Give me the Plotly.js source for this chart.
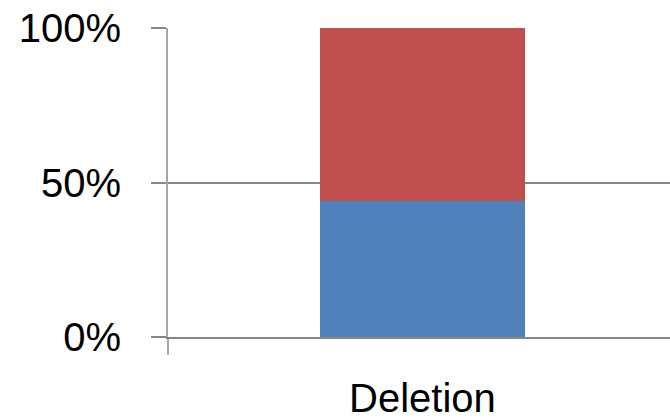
<!DOCTYPE html>
<html>
<head>
<meta charset="utf-8">
<script src="https://cdn.plot.ly/plotly-3.0.1.min.js"></script>
<style>
  html, body { margin: 0; padding: 0; background: #ffffff; }
  #chart { width: 670px; height: 420px; }
</style>
</head>
<body>
<div id="chart"></div>
<script>
// One category, two stacked shares (percent of total)
const categories = ['Deletion'];
const lowerShare = [44];   // blue segment
const upperShare = [56];   // red segment
const yTickValues = [0, 50, 100];
const yTickLabels = ['0%', '50%', '100%'];

const catIndex = categories.map((_, i) => i);

const traces = [
  {
    type: 'bar',
    x: catIndex,
    y: lowerShare,
    marker: { color: '#4F81BD' },
    width: 0.4028,
    hoverinfo: 'y'
  },
  {
    type: 'bar',
    x: catIndex,
    y: upperShare,
    marker: { color: '#C0504D' },
    width: 0.4028,
    hoverinfo: 'y'
  }
];

const layout = {
  width: 670,
  height: 420,
  margin: { l: 168, r: 0, t: 28, b: 83 },
  paper_bgcolor: '#ffffff',
  plot_bgcolor: '#ffffff',
  barmode: 'stack',
  showlegend: false,
  font: { family: 'Liberation Sans, Arial, sans-serif', color: '#000000', size: 40 },
  xaxis: {
    type: 'linear',
    range: [-0.5, 0.4864],
    tickmode: 'array',
    tickvals: catIndex,
    ticktext: categories,
    ticks: '',
    showgrid: false,
    zeroline: false,
    showline: true,
    linecolor: '#868686',
    linewidth: 2,
    ticklabelstandoff: 25,
    minor: {
      tickmode: 'array',
      tickvals: [-0.5],
      ticks: 'outside',
      ticklen: 16,
      tickwidth: 2,
      tickcolor: '#a6a6a6',
      showgrid: false
    },
    tickfont: { size: 40 },
    fixedrange: true
  },
  yaxis: {
    range: [0, 100],
    tickmode: 'array',
    tickvals: yTickValues,
    ticktext: yTickLabels,
    ticks: 'outside',
    ticklen: 15,
    tickwidth: 2,
    tickcolor: '#868686',
    showgrid: true,
    gridcolor: '#868686',
    gridwidth: 2,
    zeroline: false,
    showline: true,
    linecolor: '#a6a6a6',
    linewidth: 2,
    ticklabelstandoff: 22,
    tickfont: { size: 40 },
    fixedrange: true
  }
};

Plotly.newPlot('chart', traces, layout, { displayModeBar: false, staticPlot: true });
</script>
</body>
</html>
